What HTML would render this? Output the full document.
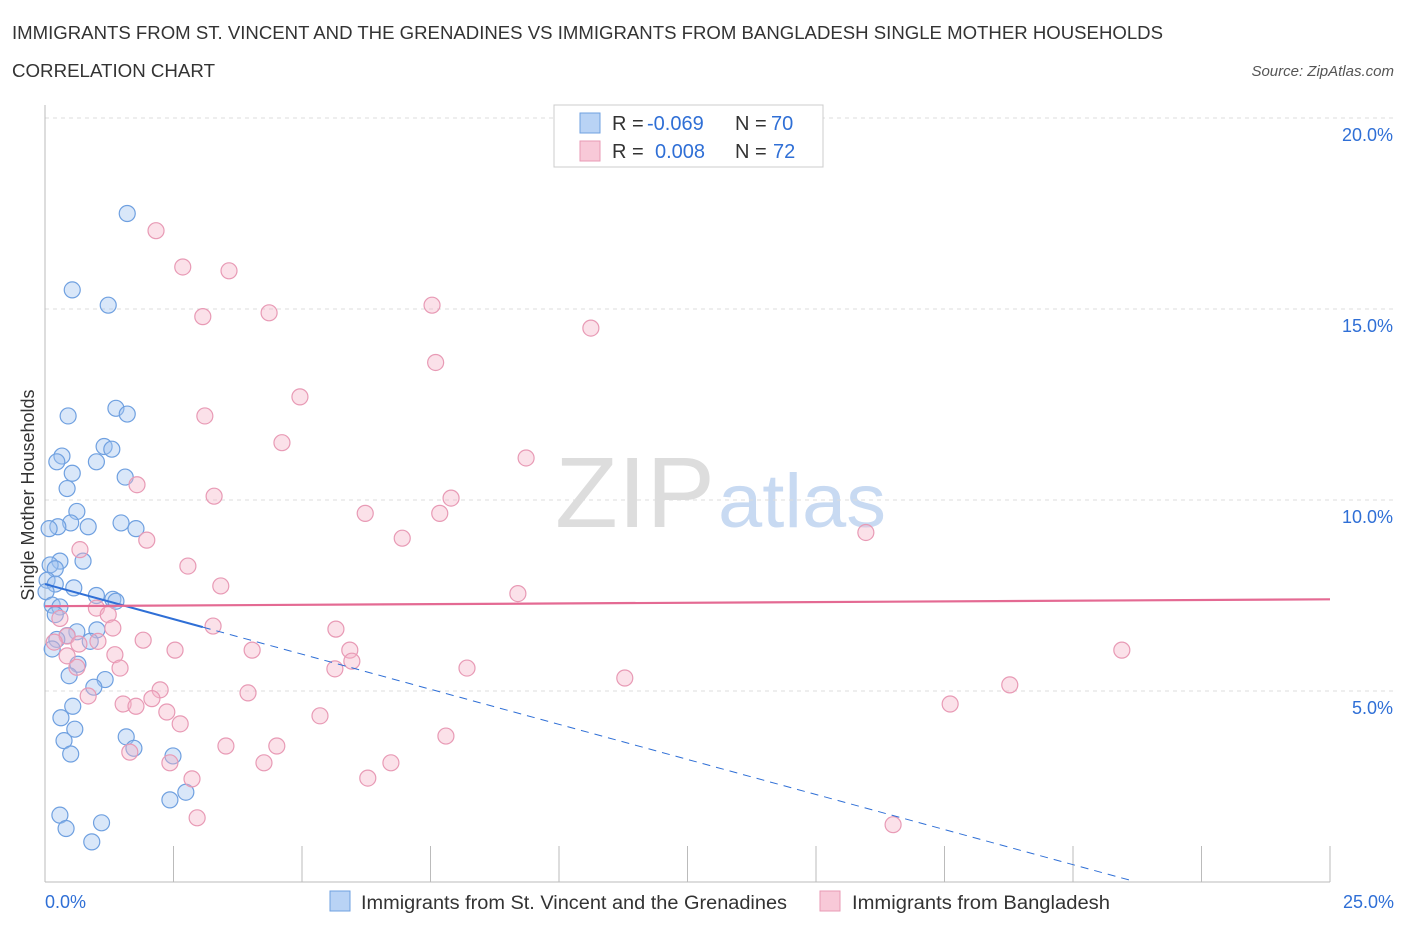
<!DOCTYPE html>
<html><head><meta charset="utf-8"><style>
body{margin:0;background:#fff;font-family:"Liberation Sans",sans-serif;}
svg text{font-family:"Liberation Sans",sans-serif;}
</style></head><body>
<svg id="chart" width="1406" height="930" xmlns="http://www.w3.org/2000/svg">
<text x="12" y="39" font-size="18" fill="#333" textLength="1151" lengthAdjust="spacingAndGlyphs">IMMIGRANTS FROM ST. VINCENT AND THE GRENADINES VS IMMIGRANTS FROM BANGLADESH SINGLE MOTHER HOUSEHOLDS</text>
<text x="12" y="77" font-size="18" fill="#333" textLength="203" lengthAdjust="spacingAndGlyphs">CORRELATION CHART</text>
<text x="1394" y="76" font-size="15" fill="#555" font-style="italic" text-anchor="end">Source: ZipAtlas.com</text>
<text x="555" y="527" font-size="100" fill="#ddd" font-family="Liberation Serif" textLength="160" lengthAdjust="spacingAndGlyphs">ZIP</text>
<text x="718" y="527" font-size="76" fill="#c8daf2" textLength="168" lengthAdjust="spacingAndGlyphs">atlas</text>
<g id="grid"></g>
<g id="axes"></g>
<g id="pts"></g>
<g id="trend"></g>
<text transform="translate(34,495) rotate(-90)" font-size="18" fill="#333" text-anchor="middle">Single Mother Households</text>
<g>
<rect x="554" y="105" width="269" height="62" fill="#fff" stroke="#ccc"/>
<rect x="580" y="113" width="20" height="20" fill="#b9d3f5" stroke="#6fa0e0"/>
<text x="612" y="130" font-size="20" fill="#333">R =</text>
<text x="647" y="130" font-size="20" fill="#2f6fd6">-0.069</text>
<text x="735" y="130" font-size="20" fill="#333">N =</text>
<text x="771" y="130" font-size="20" fill="#2f6fd6">70</text>
<rect x="580" y="141" width="20" height="20" fill="#f8c9d8" stroke="#e89ab5"/>
<text x="612" y="158" font-size="20" fill="#333">R =</text>
<text x="655" y="158" font-size="20" fill="#2f6fd6">0.008</text>
<text x="735" y="158" font-size="20" fill="#333">N =</text>
<text x="773" y="158" font-size="20" fill="#2f6fd6">72</text>
</g>
<g>
<rect x="330" y="891" width="20" height="20" fill="#b9d3f5" stroke="#6fa0e0"/>
<text x="361" y="909" font-size="19" fill="#333" textLength="426" lengthAdjust="spacingAndGlyphs">Immigrants from St. Vincent and the Grenadines</text>
<rect x="820" y="891" width="20" height="20" fill="#f8c9d8" stroke="#e89ab5"/>
<text x="852" y="909" font-size="19" fill="#333" textLength="258" lengthAdjust="spacingAndGlyphs">Immigrants from Bangladesh</text>
</g>
</svg>
<script>
const xTicksPct=[0,2.5,5,7.5,10,12.5,15,17.5,20,22.5,25];
const yTicks=[5,10,15,20];
const yTickLabels=["5.0%","10.0%","15.0%","20.0%"];
const xEndLabels=["0.0%","25.0%"];
const blueX=[1.6,0.53,1.23,1.38,1.6,0.45,1.15,1.3,0.33,0.23,1.0,0.53,1.56,0.43,0.62,0.5,0.25,0.08,0.84,1.48,1.77,0.29,0.74,0.1,0.2,0.04,0.2,0.56,0.02,1.0,1.32,1.38,0.14,0.29,0.2,0.62,1.01,0.43,0.23,0.88,0.14,0.64,0.47,1.17,0.95,0.54,0.31,0.58,0.37,1.58,1.73,0.5,2.49,2.74,2.43,0.29,0.41,1.1,0.91];
const blueY=[17.5,15.5,15.1,12.4,12.25,12.2,11.4,11.33,11.15,11.0,11.0,10.7,10.6,10.3,9.7,9.4,9.3,9.25,9.3,9.4,9.25,8.4,8.4,8.3,8.2,7.9,7.8,7.7,7.6,7.5,7.4,7.35,7.25,7.2,7.0,6.55,6.6,6.45,6.35,6.3,6.1,5.7,5.4,5.3,5.1,4.6,4.3,4.0,3.7,3.8,3.5,3.35,3.3,2.35,2.15,1.75,1.4,1.55,1.05];
const pinkX=[2.16,2.68,3.58,7.53,4.36,3.07,10.62,7.6,4.96,3.11,4.61,9.36,1.79,3.29,7.9,6.23,7.68,1.98,6.95,15.97,0.68,2.78,3.42,9.2,1.0,1.23,0.29,3.27,1.32,5.66,0.43,1.91,0.18,1.03,0.66,2.53,4.03,5.93,20.95,1.36,5.97,0.43,0.62,1.46,5.64,8.21,11.28,18.77,2.24,3.95,0.84,2.08,1.52,1.77,2.37,2.63,5.35,17.61,7.8,3.52,4.51,1.65,2.43,4.26,6.73,2.86,6.28,2.96,16.5];
const pinkY=[17.05,16.1,16.0,15.1,14.9,14.8,14.5,13.6,12.7,12.2,11.5,11.1,10.4,10.1,10.05,9.65,9.65,8.95,9.0,9.15,8.7,8.27,7.75,7.55,7.17,7.0,6.9,6.7,6.65,6.62,6.44,6.33,6.28,6.3,6.23,6.07,6.07,6.07,6.07,5.95,5.78,5.92,5.62,5.6,5.58,5.6,5.34,5.16,5.03,4.95,4.87,4.8,4.66,4.6,4.45,4.14,4.35,4.66,3.82,3.56,3.56,3.4,3.12,3.12,3.12,2.7,2.72,1.68,1.5];
const blueTrend=[7.8,0.05,21.1]; // value at x=0, value at end, end x
const pinkTrend=[7.22,7.4];
const X=v=>45+v*51.4, Y=v=>882-v*38.2;
const NS="http://www.w3.org/2000/svg";
function mk(p,t,a){const e=document.createElementNS(NS,t);for(const k in a)e.setAttribute(k,a[k]);p.appendChild(e);return e;}
const grid=document.getElementById('grid'),axes=document.getElementById('axes'),pts=document.getElementById('pts'),tr=document.getElementById('trend');
yTicks.forEach((t,i)=>{
 const l=mk(grid,'line',{x1:45,x2:1394,y1:Y(t),y2:Y(t),stroke:'#ddd','stroke-dasharray':'4,4'});
 
 
 const tx=mk(axes,'text',{x:1393,y:Y(t)+23,'font-size':18,fill:'#2f6fd6','text-anchor':'end'});
 tx.textContent=yTickLabels[i];
 
 
});
const ax=mk(axes,'line',{x1:45,x2:1330,y1:882,y2:882,stroke:'#bbb'});


const ay=mk(axes,'line',{x1:45,x2:45,y1:105,y2:882,stroke:'#bbb'});


xTicksPct.forEach(t=>{
 const l=mk(axes,'line',{x1:X(t),x2:X(t),y1:846,y2:882,stroke:'#bbb'});
 
 
});
[[0,'start',45],[25,'end',1394]].forEach((d,i)=>{
 const tx=mk(axes,'text',{x:d[2],y:908,'font-size':18,fill:'#2f6fd6','text-anchor':d[1]});
 tx.textContent=xEndLabels[i];
 
 
});
blueX.forEach((v,i)=>{
 const c=mk(pts,'circle',{cx:X(v),cy:Y(blueY[i]),r:8,fill:'rgba(160,195,240,0.4)',stroke:'#6fa0e0','stroke-width':1.2});
 
 
});
pinkX.forEach((v,i)=>{
 const c=mk(pts,'circle',{cx:X(v),cy:Y(pinkY[i]),r:8,fill:'rgba(245,180,200,0.4)',stroke:'#e89ab5','stroke-width':1.2});
 
 
});
const bs=(blueTrend[0]-blueTrend[1])/blueTrend[2];
const bSolid=mk(tr,'line',{x1:X(0),y1:Y(blueTrend[0]),x2:X(3.07),y2:Y(blueTrend[0]-bs*3.07),stroke:'#2f6fd6','stroke-width':2});


const bDash=mk(tr,'line',{x1:X(3.07),y1:Y(blueTrend[0]-bs*3.07),x2:X(blueTrend[2]),y2:Y(blueTrend[1]),stroke:'#2f6fd6','stroke-width':1,'stroke-dasharray':'8,6'});


const pl=mk(tr,'line',{x1:X(0),y1:Y(pinkTrend[0]),x2:X(25),y2:Y(pinkTrend[1]),stroke:'#e46a93','stroke-width':2.2});


</script>
</body></html>
